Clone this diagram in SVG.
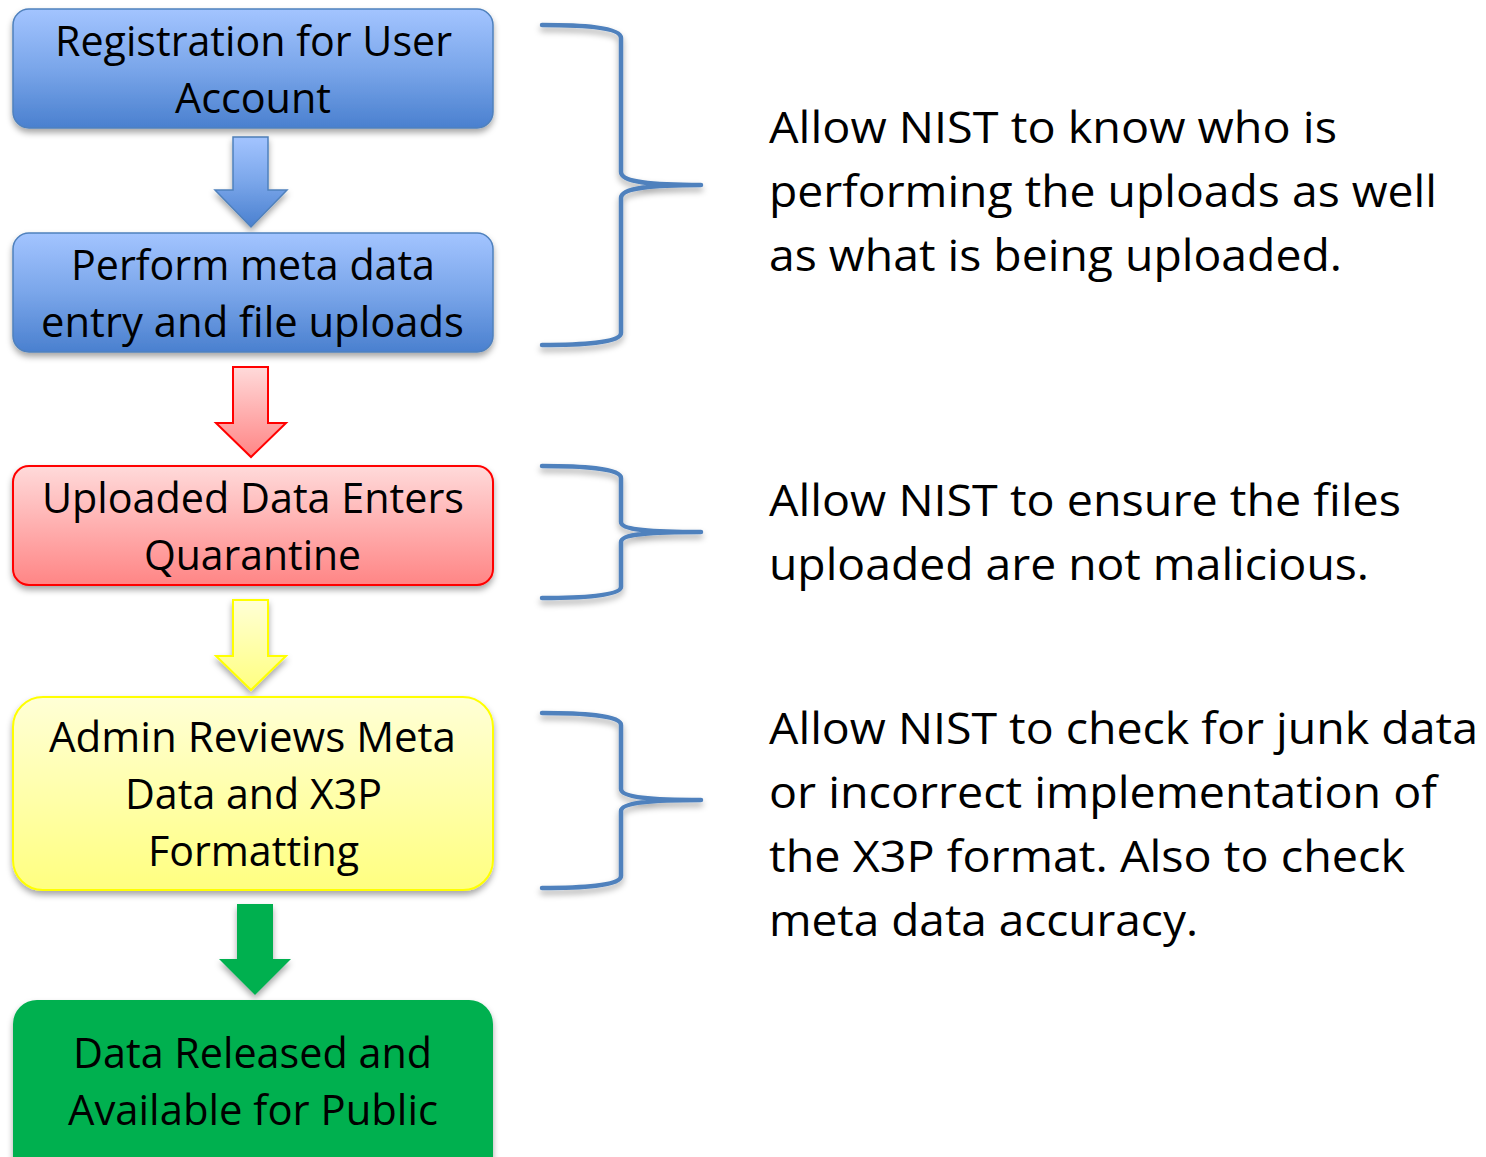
<svg xmlns="http://www.w3.org/2000/svg" width="1486" height="1157" viewBox="0 0 1486 1157">
<defs>
<linearGradient id="gBlue" x1="0" y1="0" x2="0" y2="1"><stop offset="0" stop-color="#a3c4ff"/><stop offset="0.5" stop-color="#7aa6ea"/><stop offset="1" stop-color="#4a80cf"/></linearGradient>
<linearGradient id="gRed" x1="0" y1="0" x2="0" y2="1"><stop offset="0" stop-color="#ffdada"/><stop offset="1" stop-color="#ff8585"/></linearGradient>
<linearGradient id="gYel" x1="0" y1="0" x2="0" y2="1"><stop offset="0" stop-color="#ffffd6"/><stop offset="1" stop-color="#ffff80"/></linearGradient>
<filter id="sh" x="-10%" y="-10%" width="120%" height="140%"><feDropShadow dx="0" dy="4" stdDeviation="3" flood-color="#000" flood-opacity="0.35"/></filter>
<style>
.t{font-family:"Open Sans","Liberation Sans",sans-serif;font-size:42px;fill:#000;font-variant-ligatures:none;}
.r{font-family:"Open Sans","Liberation Sans",sans-serif;font-size:44px;fill:#000;font-variant-ligatures:none;}
.br{fill:none;stroke:#4f81bd;stroke-width:4.5;stroke-linecap:round;stroke-linejoin:round;}
</style>
</defs>
<g id="connectors">
<path d="M233,137 H268 V190 H287 L251,227 L215,190 H233 Z" fill="url(#gBlue)" stroke="#4f81bd" stroke-width="1.5" filter="url(#sh)"/>
<path d="M233,367 H268 V423 H286 L251,457 L216,423 H233 Z" fill="url(#gRed)" stroke="#ff0000" stroke-width="2"/>
<path d="M233,600 H268 V656 H286 L251,690 L216,656 H233 Z" fill="url(#gYel)" stroke="#ffff00" stroke-width="2" filter="url(#sh)"/>
<path d="M237,904 H273 V959 H291 L255,995 L219,959 H237 Z" fill="#00b050" filter="url(#sh)"/>
</g>
<g id="node1">
<rect x="13" y="9" width="480" height="119" rx="16" fill="url(#gBlue)" stroke="#4f81bd" stroke-width="1.5" filter="url(#sh)"/>
<text class="t" x="253.5" y="56" text-anchor="middle" textLength="397" lengthAdjust="spacingAndGlyphs">Registration for User</text>
<text class="t" x="253" y="113" text-anchor="middle" textLength="156" lengthAdjust="spacingAndGlyphs">Account</text>
</g>
<g id="node2">
<rect x="13" y="233" width="480" height="119" rx="16" fill="url(#gBlue)" stroke="#4f81bd" stroke-width="1.5" filter="url(#sh)"/>
<text class="t" x="253" y="280" text-anchor="middle" textLength="364" lengthAdjust="spacingAndGlyphs">Perform meta data</text>
<text class="t" x="252.5" y="337" text-anchor="middle" textLength="423" lengthAdjust="spacingAndGlyphs">entry and file uploads</text>
</g>
<g id="node3">
<rect x="13" y="466" width="480" height="119" rx="16" fill="url(#gRed)" stroke="#ff0000" stroke-width="2" filter="url(#sh)"/>
<text class="t" x="253" y="513" text-anchor="middle" textLength="422" lengthAdjust="spacingAndGlyphs">Uploaded Data Enters</text>
<text class="t" x="252.5" y="570" text-anchor="middle" textLength="217" lengthAdjust="spacingAndGlyphs">Quarantine</text>
</g>
<g id="node4">
<rect x="13" y="697" width="480" height="193" rx="30" fill="url(#gYel)" stroke="#ffff00" stroke-width="2" filter="url(#sh)"/>
<text class="t" x="252.5" y="752" text-anchor="middle" textLength="407" lengthAdjust="spacingAndGlyphs">Admin Reviews Meta</text>
<text class="t" x="253.5" y="809" text-anchor="middle" textLength="257" lengthAdjust="spacingAndGlyphs">Data and X3P</text>
<text class="t" x="253.5" y="866" text-anchor="middle" textLength="211" lengthAdjust="spacingAndGlyphs">Formatting</text>
</g>
<g id="node5">
<rect x="13" y="1000" width="480" height="190" rx="24" fill="#00b050" filter="url(#sh)"/>
<text class="t" x="252.5" y="1068" text-anchor="middle" textLength="359" lengthAdjust="spacingAndGlyphs">Data Released and</text>
<text class="t" x="253" y="1125" text-anchor="middle" textLength="370" lengthAdjust="spacingAndGlyphs">Available for Public</text>
</g>
<g id="bracket1" filter="url(#sh)">
<path class="br" d="M542,25 C580,25 621,27 621,38 V172 C621,182 650,185 701,185 C650,185 621,188 621,198 V333 C621,343 580,345 542,345"/>
</g>
<g id="bracket2" filter="url(#sh)">
<path class="br" d="M542,466 C580,466 621,468 621,478 V522 C621,530 650,532 701,532 C650,532 621,534 621,542 V587 C621,596 580,598 542,598"/>
</g>
<g id="bracket3" filter="url(#sh)">
<path class="br" d="M542,713 C580,713 621,715 621,725 V789 C621,797 650,800 701,800 C650,800 621,803 621,811 V876 C621,886 580,888 542,888"/>
</g>
<g id="note1">
<text class="r" x="769" y="143" textLength="568" lengthAdjust="spacingAndGlyphs">Allow NIST to know who is</text>
<text class="r" x="769" y="207" textLength="668" lengthAdjust="spacingAndGlyphs">performing the uploads as well</text>
<text class="r" x="769" y="271" textLength="573" lengthAdjust="spacingAndGlyphs">as what is being uploaded.</text>
</g>
<g id="note2">
<text class="r" x="769" y="516" textLength="632" lengthAdjust="spacingAndGlyphs">Allow NIST to ensure the files</text>
<text class="r" x="769" y="580" textLength="600" lengthAdjust="spacingAndGlyphs">uploaded are not malicious.</text>
</g>
<g id="note3">
<text class="r" x="769" y="744" textLength="709" lengthAdjust="spacingAndGlyphs">Allow NIST to check for junk data</text>
<text class="r" x="769" y="808" textLength="668" lengthAdjust="spacingAndGlyphs">or incorrect implementation of</text>
<text class="r" x="769" y="872" textLength="636" lengthAdjust="spacingAndGlyphs">the X3P format. Also to check</text>
<text class="r" x="769" y="936" textLength="429" lengthAdjust="spacingAndGlyphs">meta data accuracy.</text>
</g>
</svg>
